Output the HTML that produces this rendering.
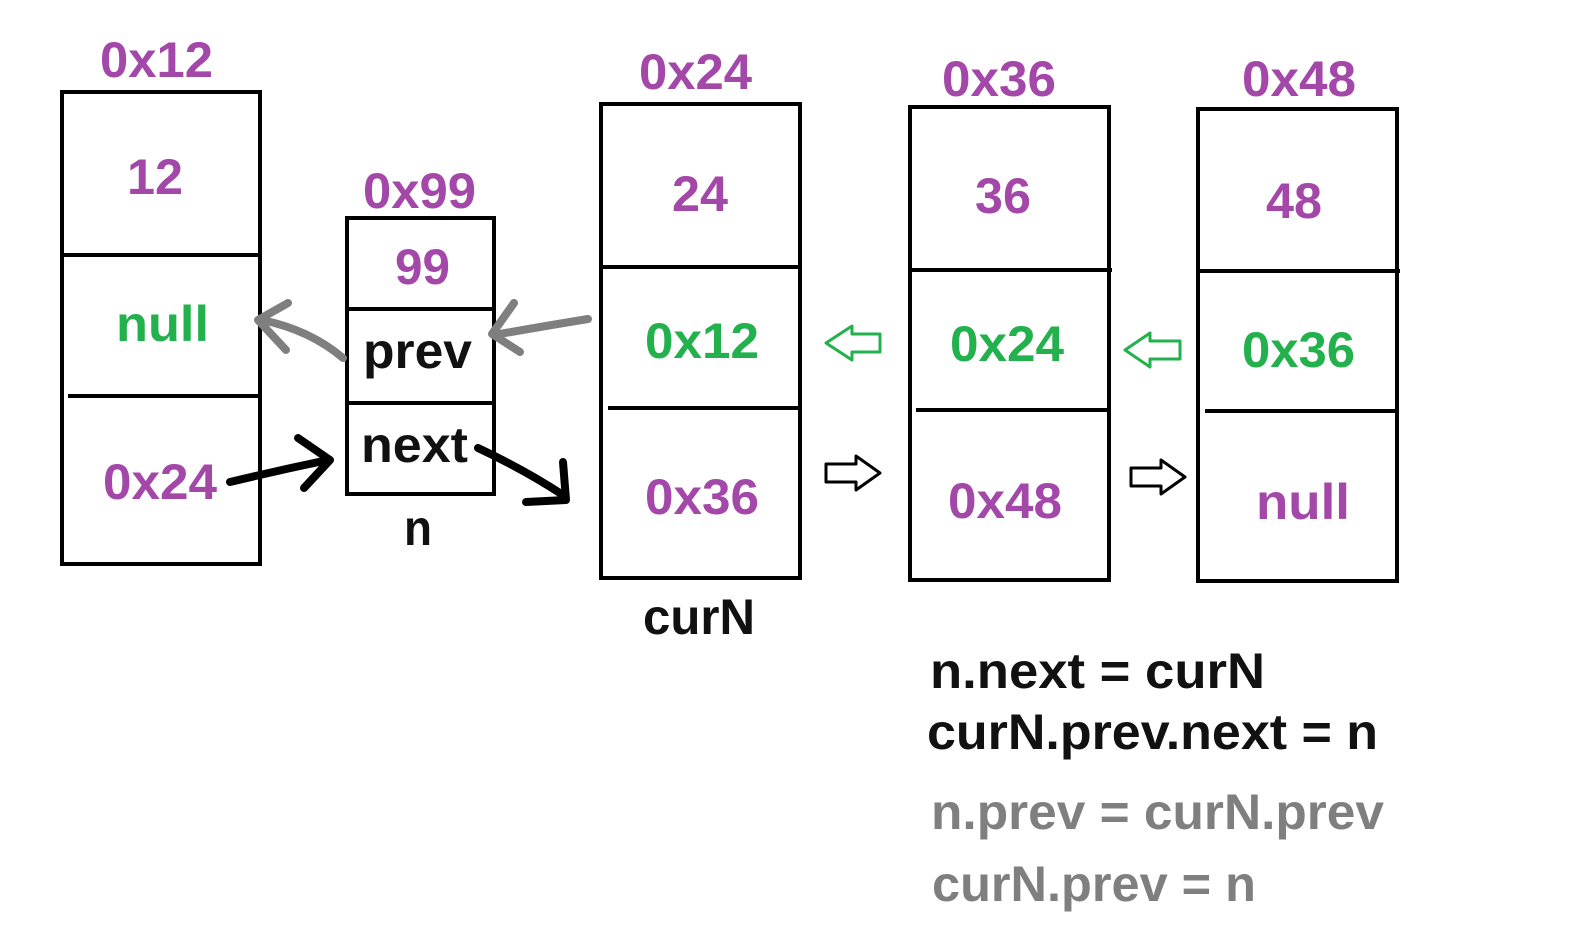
<!DOCTYPE html>
<html><head><meta charset="utf-8"><style>
html,body{margin:0;padding:0;background:#fff;}
svg{display:block;}
text{font-family:"Liberation Sans",sans-serif;font-weight:bold;}
.p{fill:#a347a8}.g{fill:#22b14c}.k{fill:#111}.gr{fill:#7f7f7f}
</style></head><body>
<svg width="1581" height="939" viewBox="0 0 1581 939" xmlns="http://www.w3.org/2000/svg">
<g fill="none" stroke="#000" stroke-width="4">
<rect x="62" y="92" width="198" height="472"/><line x1="62" y1="255" x2="262" y2="255"/><line x1="68" y1="396" x2="260" y2="396"/>
<rect x="347" y="218" width="147" height="276"/><line x1="347" y1="309" x2="494" y2="309"/><line x1="347" y1="403" x2="494" y2="403"/>
<rect x="601" y="104" width="199" height="474"/><line x1="601" y1="267" x2="802" y2="267"/><line x1="608" y1="408" x2="800" y2="408"/>
<rect x="910" y="107" width="199" height="473"/><line x1="910" y1="270" x2="1112" y2="270"/><line x1="916" y1="410" x2="1109" y2="410"/>
<rect x="1198" y="109" width="199" height="472"/><line x1="1198" y1="271" x2="1400" y2="271"/><line x1="1205" y1="411" x2="1397" y2="411"/>
</g>
<g font-size="50" lengthAdjust="spacingAndGlyphs">
<text x="100" y="77" textLength="113" lengthAdjust="spacingAndGlyphs" class="p">0x12</text>
<text x="363" y="208" textLength="113" lengthAdjust="spacingAndGlyphs" class="p">0x99</text>
<text x="639" y="89" textLength="113" lengthAdjust="spacingAndGlyphs" class="p">0x24</text>
<text x="942" y="96" textLength="114" lengthAdjust="spacingAndGlyphs" class="p">0x36</text>
<text x="1242" y="96" textLength="114" lengthAdjust="spacingAndGlyphs" class="p">0x48</text>
<text x="127" y="194" textLength="56" lengthAdjust="spacingAndGlyphs" class="p">12</text>
<text x="116" y="341" textLength="93" lengthAdjust="spacingAndGlyphs" class="g">null</text>
<text x="103" y="499" textLength="114" lengthAdjust="spacingAndGlyphs" class="p">0x24</text>
<text x="395" y="284" textLength="55" lengthAdjust="spacingAndGlyphs" class="p">99</text>
<text x="363" y="368" textLength="109" lengthAdjust="spacingAndGlyphs" class="k">prev</text>
<text x="361" y="462" textLength="107" lengthAdjust="spacingAndGlyphs" class="k">next</text>
<text x="404" y="545" textLength="28" lengthAdjust="spacingAndGlyphs" class="k">n</text>
<text x="672" y="211" textLength="56" lengthAdjust="spacingAndGlyphs" class="p">24</text>
<text x="645" y="358" textLength="114" lengthAdjust="spacingAndGlyphs" class="g">0x12</text>
<text x="645" y="514" textLength="114" lengthAdjust="spacingAndGlyphs" class="p">0x36</text>
<text x="643" y="634" textLength="112" lengthAdjust="spacingAndGlyphs" class="k">curN</text>
<text x="975" y="213" textLength="56" lengthAdjust="spacingAndGlyphs" class="p">36</text>
<text x="950" y="361" textLength="114" lengthAdjust="spacingAndGlyphs" class="g">0x24</text>
<text x="948" y="518" textLength="114" lengthAdjust="spacingAndGlyphs" class="p">0x48</text>
<text x="1266" y="218" textLength="56" lengthAdjust="spacingAndGlyphs" class="p">48</text>
<text x="1242" y="367" textLength="113" lengthAdjust="spacingAndGlyphs" class="g">0x36</text>
<text x="1256" y="519" textLength="94" lengthAdjust="spacingAndGlyphs" class="p">null</text>
<text x="930" y="688" textLength="335" lengthAdjust="spacingAndGlyphs" class="k">n.next =  curN</text>
<text x="927" y="749" textLength="451" lengthAdjust="spacingAndGlyphs" class="k">curN.prev.next = n</text>
<text x="931" y="829" textLength="453" lengthAdjust="spacingAndGlyphs" class="gr">n.prev = curN.prev</text>
<text x="932" y="901" textLength="324" lengthAdjust="spacingAndGlyphs" class="gr">curN.prev = n</text>
</g>
<g fill="none" stroke-linecap="round" stroke-linejoin="round">
<path d="M343 358 Q310 330 262 320" stroke="#7f7f7f" stroke-width="8"/>
<path d="M288 303 L258 320 L286 350" stroke="#7f7f7f" stroke-width="8"/>
<path d="M588 319 Q545 326 494 335" stroke="#7f7f7f" stroke-width="8"/>
<path d="M514 303 L492 334 L520 352" stroke="#7f7f7f" stroke-width="8"/>
<path d="M230 482 Q280 470 328 460" stroke="#000" stroke-width="8"/>
<path d="M298 438 L330 460 L304 488" stroke="#000" stroke-width="8"/>
<path d="M478 448 Q525 470 563 495" stroke="#000" stroke-width="8"/>
<path d="M563 462 L566 500 L526 502" stroke="#000" stroke-width="8"/>
<path d="M880 334 L852 334 L852 326 L826 343 L852 360 L852 352 L880 352 Z" stroke="#22b14c" stroke-width="3"/>
<path d="M1180 341 L1150 341 L1150 333 L1125 350 L1150 367 L1150 359 L1180 359 Z" stroke="#22b14c" stroke-width="3"/>
<path d="M826 464 L856 464 L856 456 L880 473 L856 490 L856 482 L826 482 Z" stroke="#000" stroke-width="3"/>
<path d="M1131 468 L1161 468 L1161 460 L1185 477 L1161 494 L1161 486 L1131 486 Z" stroke="#000" stroke-width="3"/>
</g>
</svg>
</body></html>
